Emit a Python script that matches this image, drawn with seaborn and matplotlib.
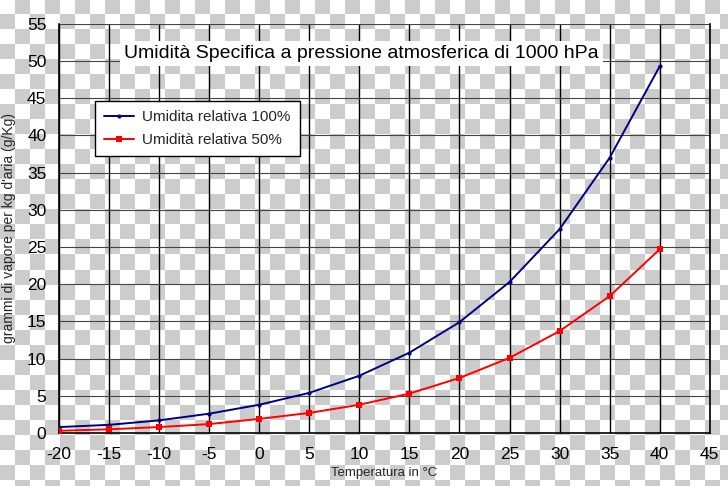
import matplotlib
matplotlib.use("Agg")
import matplotlib.pyplot as plt
import numpy as np
import pandas as pd
import seaborn as sns

TEMPERATURE = [-20, -15, -10, -5, 0, 5, 10, 15, 20, 25, 30, 35, 40]
HUMIDITY_100 = [0.8, 1.1, 1.7, 2.6, 3.8, 5.4, 7.7, 10.8, 14.9, 20.3, 27.4, 37.0, 49.3]
HUMIDITY_50 = [0.3, 0.5, 0.8, 1.2, 1.9, 2.7, 3.8, 5.3, 7.4, 10.1, 13.7, 18.4, 24.7]
LABEL_100 = "Umidita relativa 100%"
LABEL_50 = "Umidità relativa 50%"
X_TICKS = list(range(-20, 50, 5))
Y_TICKS = list(range(0, 60, 5))

TITLE = "Umidità Specifica a pressione atmosferica di 1000 hPa"
XLABEL = "Temperatura in °C"
YLABEL = "grammi di vapore per kg d'aria (g/Kg)"


def draw_checkerboard(fig) -> None:
    bg = fig.add_axes([0, 0, 1, 1], zorder=-10)
    cell = 15
    rows, cols = 486 // cell + 2, 728 // cell + 2
    board = np.indices((rows, cols)).sum(axis=0) % 2
    bg.imshow(board, cmap=matplotlib.colors.ListedColormap(["#ffffff", "#cccccc"]),
              extent=(0, cols * cell, rows * cell, 0), interpolation="nearest")
    bg.set_xlim(0, 728)
    bg.set_ylim(486, 0)
    bg.axis("off")


def main() -> None:
    sns.set_theme(style="white")
    plt.rcParams["font.family"] = ["Liberation Sans", "DejaVu Sans"]
    plt.rcParams["axes.unicode_minus"] = False

    df = pd.DataFrame({
        "temp": TEMPERATURE * 2,
        "value": HUMIDITY_100 + HUMIDITY_50,
        "serie": [LABEL_100] * len(TEMPERATURE) + [LABEL_50] * len(TEMPERATURE),
    })

    fig = plt.figure(figsize=(7.28, 4.86), dpi=100)
    fig.patch.set_alpha(0)
    draw_checkerboard(fig)

    ax = fig.add_axes([0.081, 0.109, 0.894, 0.842], zorder=1)
    ax.set_facecolor("none")

    sns.lineplot(data=df[df["serie"] == LABEL_100], x="temp", y="value", color="#000080",
                 marker="o", markersize=3, markeredgewidth=0, linewidth=1.4,
                 label=LABEL_100, ax=ax, zorder=5)
    sns.lineplot(data=df[df["serie"] == LABEL_50], x="temp", y="value", color="#ff0000",
                 marker="s", markersize=4.5, markeredgewidth=0, linewidth=1.4,
                 label=LABEL_50, ax=ax, zorder=5)

    ax.set_xlim(-20, 45)
    ax.set_ylim(0, 55)
    ax.set_xticks(X_TICKS)
    ax.set_yticks(Y_TICKS)
    ax.tick_params(axis="both", length=0, labelsize=12.5, colors="black")
    ax.tick_params(axis="x", pad=10)
    ax.tick_params(axis="y", pad=9)

    for x in X_TICKS:
        ax.axvline(x, color="black", linewidth=1.0, zorder=1)
    for y in Y_TICKS[1:]:
        ax.axhline(y, color="#444444", linewidth=0.8, zorder=1)

    for side in ["left", "bottom", "right"]:
        ax.spines[side].set_visible(True)
        ax.spines[side].set_color("black")
        ax.spines[side].set_linewidth(1.2)
    ax.spines["top"].set_visible(False)

    ax.set_xlabel(XLABEL, fontsize=9.5, labelpad=4)
    ax.set_ylabel(YLABEL, fontsize=10, labelpad=8)

    ax.text(0.465, 0.928, TITLE, transform=ax.transAxes, ha="center", va="center",
            fontsize=14, color="black", zorder=6,
            bbox=dict(facecolor="white", edgecolor="none", pad=3))

    ax.legend(loc="upper left", bbox_to_anchor=(0.055, 0.812), borderaxespad=0,
              fontsize=11, frameon=True, fancybox=False, framealpha=1,
              edgecolor="black", handlelength=2.0, handletextpad=0.5,
              borderpad=0.6, labelspacing=0.6)
    ax.get_legend().get_frame().set_linewidth(1.0)

    fig.savefig("out.png", dpi=100)
    plt.close(fig)


if __name__ == "__main__":
    main()
